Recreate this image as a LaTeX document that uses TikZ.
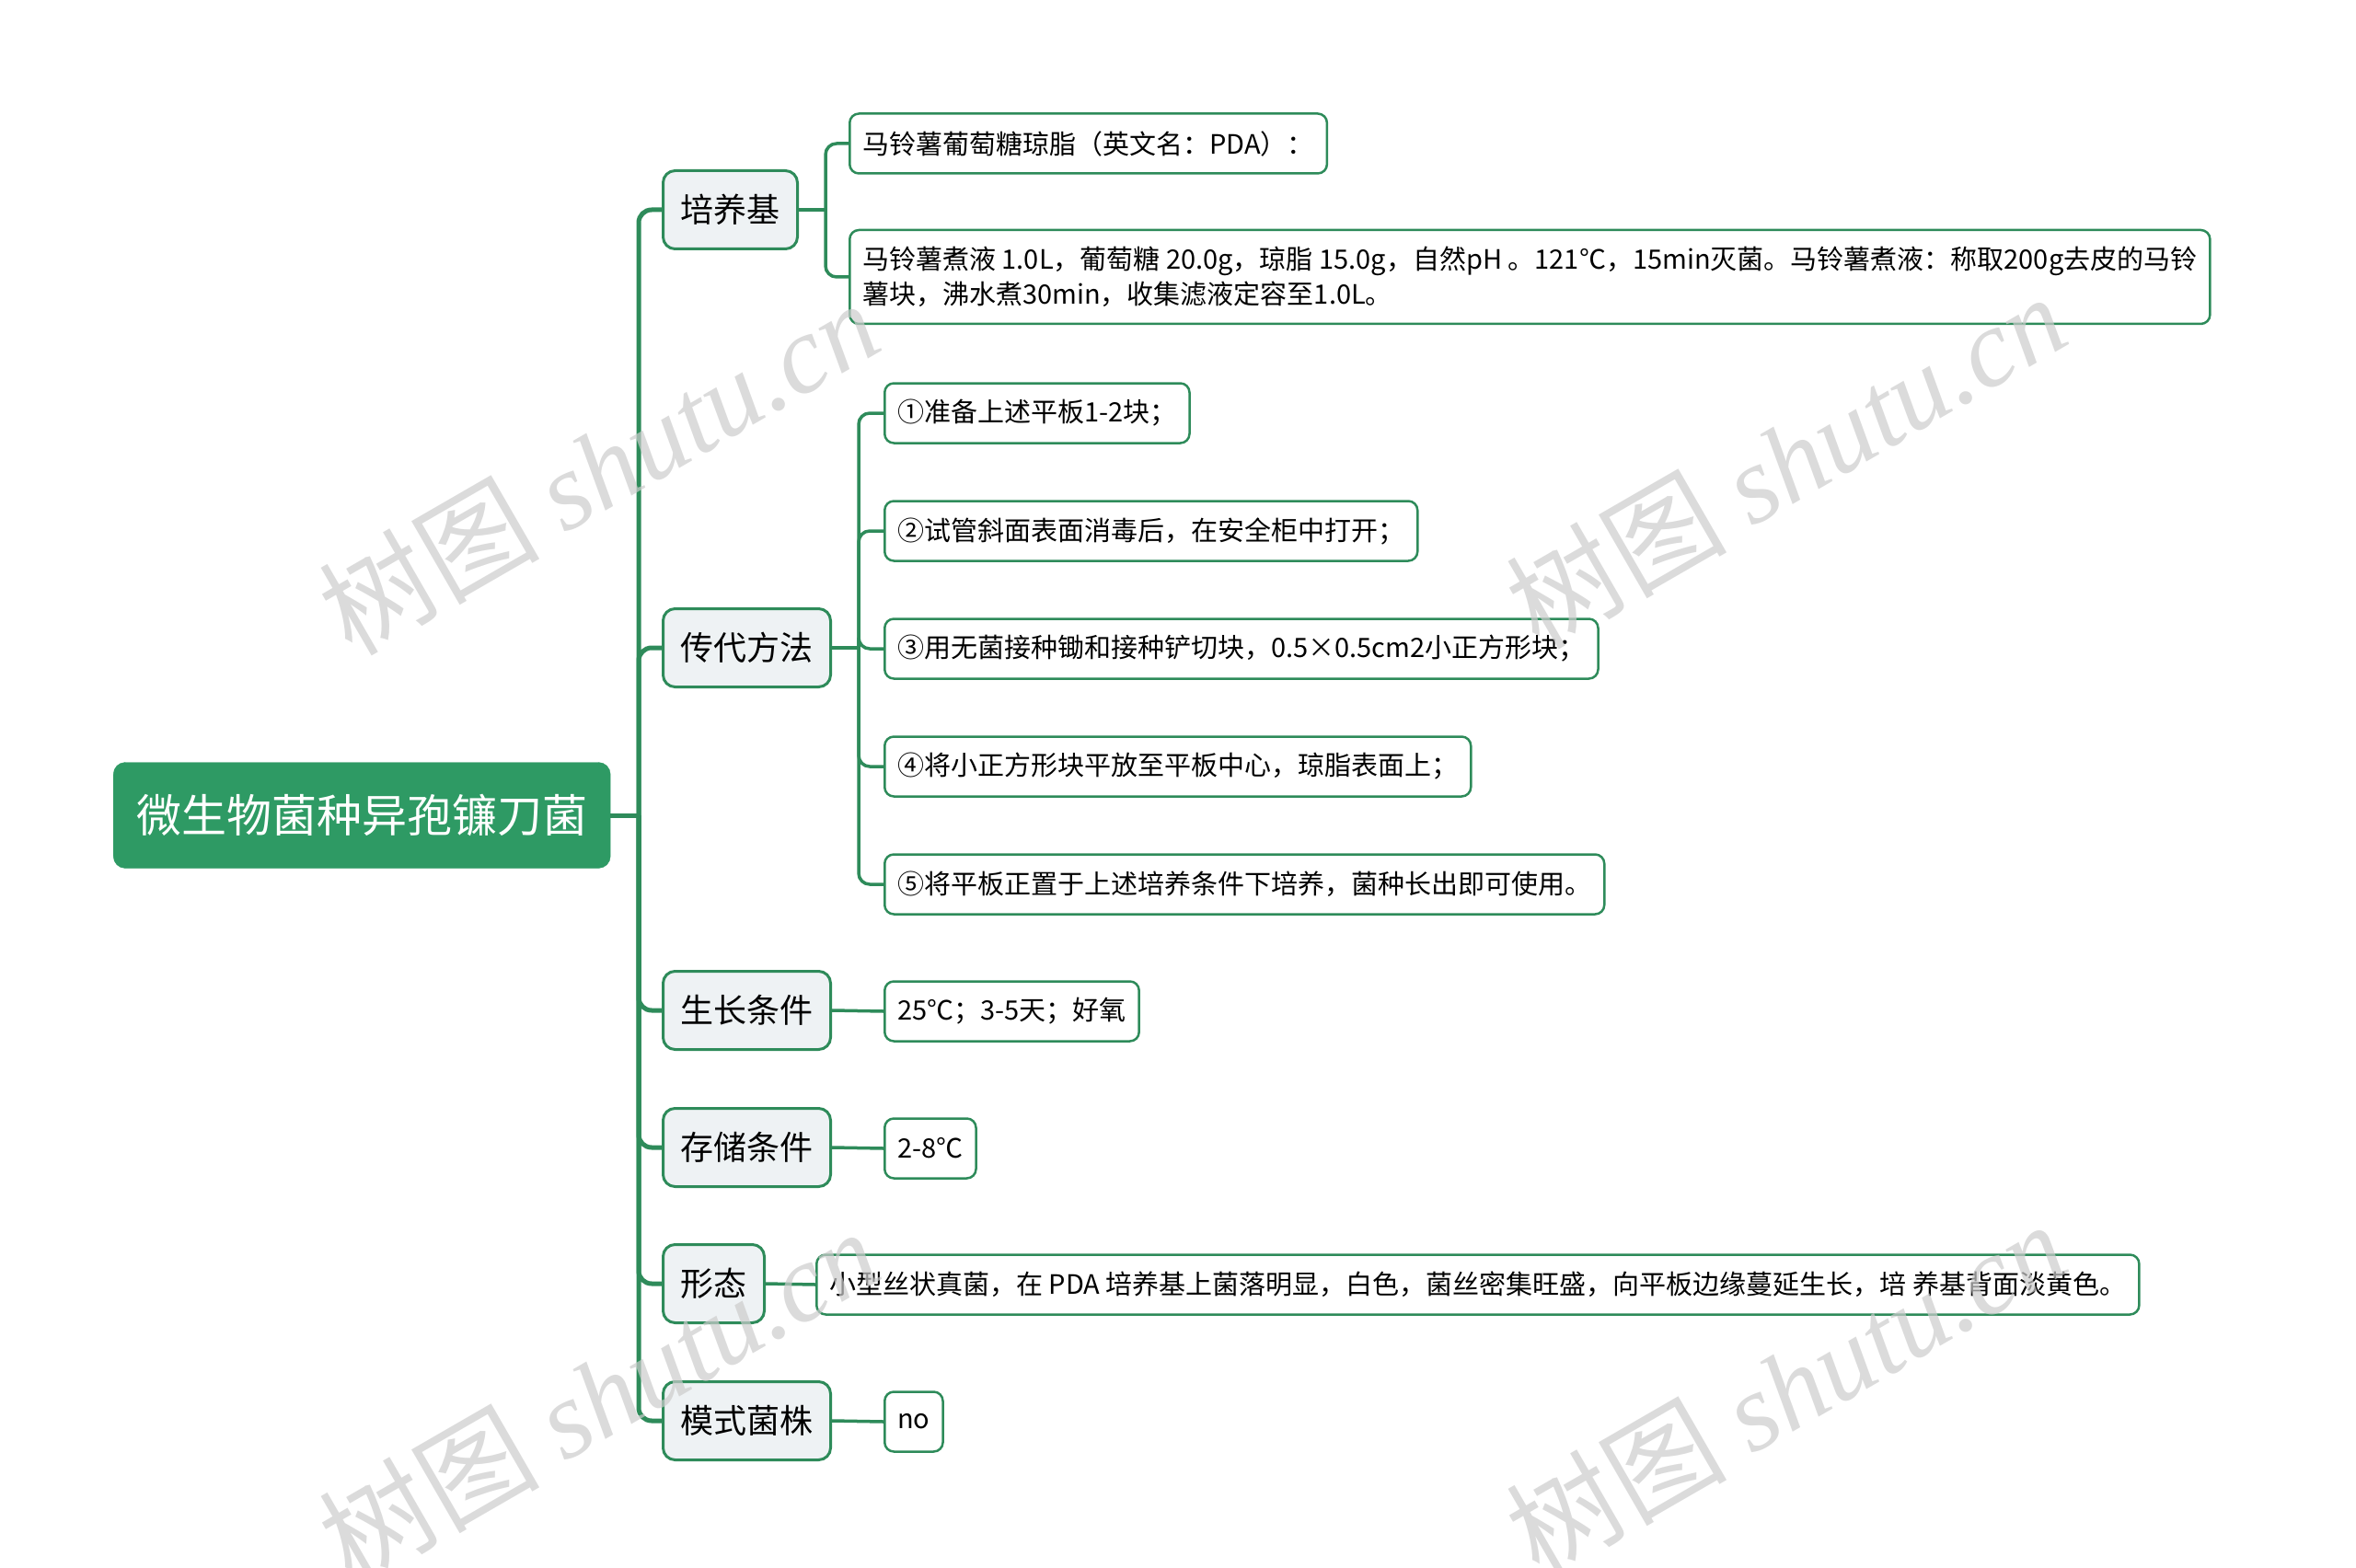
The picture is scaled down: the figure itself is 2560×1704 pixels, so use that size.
\documentclass[tikz,border=0pt]{standalone}
\usepackage{fontspec}
\setmainfont{Noto Sans CJK SC}
\newfontfamily\wmlat{Liberation Serif}
\definecolor{mgreen}{HTML}{2E9A64}
\definecolor{lgreen}{HTML}{2E8B5A}
\definecolor{lgray}{HTML}{EEF2F4}
\begin{document}
\begin{tikzpicture}[x=1pt,y=-1pt,
  rootbox/.style={fill=mgreen, draw=mgreen, text=white, rounded corners=13pt, minimum height=115pt, inner xsep=25pt, font=\fontsize{49pt}{55pt}\selectfont, anchor=west},
  lonebox/.style={fill=lgray, draw=lgreen, line width=3pt, rounded corners=13pt, minimum height=85pt, inner xsep=19pt, font=\fontsize{36pt}{40pt}\selectfont, anchor=west},
  ltwobox/.style={fill=white, draw=lgreen, line width=2.5pt, rounded corners=10pt, minimum height=65pt, inner xsep=14pt, font=\fontsize{29pt}{38pt}\selectfont, anchor=west, align=left},
  trunk/.style={draw=lgreen, line width=5pt, rounded corners=14pt},
  twig/.style={draw=lgreen, line width=3.5pt, rounded corners=12pt},
  wmark/.style={text=gray!40, text opacity=0.7, rotate=30, font=\fontsize{120pt}{126pt}\selectfont}
]
\useasboundingbox (0,0) rectangle (2560,1704);
% root
\node[rootbox] (root) at (123,886) {微生物菌种异孢镰刀菌};
% level 1
\node[lonebox] (pyj) at (719,228) {培养基};
\node[lonebox] (cdff) at (719,704) {传代方法};
\node[lonebox] (sztj) at (719,1098) {生长条件};
\node[lonebox] (cctj) at (719,1247) {存储条件};
\node[lonebox] (xt) at (719,1395) {形态};
\node[lonebox] (msjz) at (719,1544) {模式菌株};
% level 2
\node[ltwobox] (p1) at (922,156) {马铃薯葡萄糖琼脂（英文名：PDA）：};
\node[ltwobox, minimum height=102pt] (p2) at (922,301) {马铃薯煮液 1.0L，葡萄糖 20.0g，琼脂 15.0g，自然pH 。121℃，15min灭菌。马铃薯煮液：称取200g去皮的马铃\\薯块，沸水煮30min，收集滤液定容至1.0L。};
\node[ltwobox] (c1) at (960,449) {①准备上述平板1-2块；};
\node[ltwobox] (c2) at (960,577) {②试管斜面表面消毒后，在安全柜中打开；};
\node[ltwobox] (c3) at (960,705) {③用无菌接种锄和接种铲切块，0.5×0.5cm2小正方形块；};
\node[ltwobox] (c4) at (960,833) {④将小正方形块平放至平板中心，琼脂表面上；};
\node[ltwobox] (c5) at (960,961) {⑤将平板正置于上述培养条件下培养，菌种长出即可使用。};
\node[ltwobox] (s1) at (960,1099) {25℃；3-5天；好氧};
\node[ltwobox] (k1) at (960,1248) {2-8℃};
\node[ltwobox] (x1) at (886,1396) {小型丝状真菌，在 PDA 培养基上菌落明显，白色，菌丝密集旺盛，向平板边缘蔓延生长，培 养基背面淡黄色。};
\node[ltwobox] (m1) at (960,1545) {no};
% connectors
\coordinate (rj) at (694,886);
\draw[trunk] (root.east) -- (rj);
\foreach \n in {pyj,cdff,sztj,cctj,xt,msjz} {\draw[trunk] (rj) |- (\n.west);}
\coordinate (pj) at (897,228);
\draw[twig] (pyj.east) -- (pj);
\foreach \n in {p1,p2} {\draw[twig] (pj) |- (\n.west);}
\coordinate (cj) at (933,704);
\draw[twig] (cdff.east) -- (cj);
\foreach \n in {c1,c2,c3,c4,c5} {\draw[twig] (cj) |- (\n.west);}
\draw[twig] (sztj.east) -- (s1.west);
\draw[twig] (cctj.east) -- (k1.west);
\draw[twig] (xt.east) -- (x1.west);
\draw[twig] (msjz.east) -- (m1.west);
% watermarks
\node[wmark] (w1) at (650,507) {树图 {\wmlat\itshape shutu.cn}};
\node[wmark] (w2) at (1940,500) {树图 {\wmlat\itshape shutu.cn}};
\node[wmark] (w3) at (650,1516) {树图 {\wmlat\itshape shutu.cn}};
\node[wmark] (w4) at (1940,1508) {树图 {\wmlat\itshape shutu.cn}};
\end{tikzpicture}
\end{document}
